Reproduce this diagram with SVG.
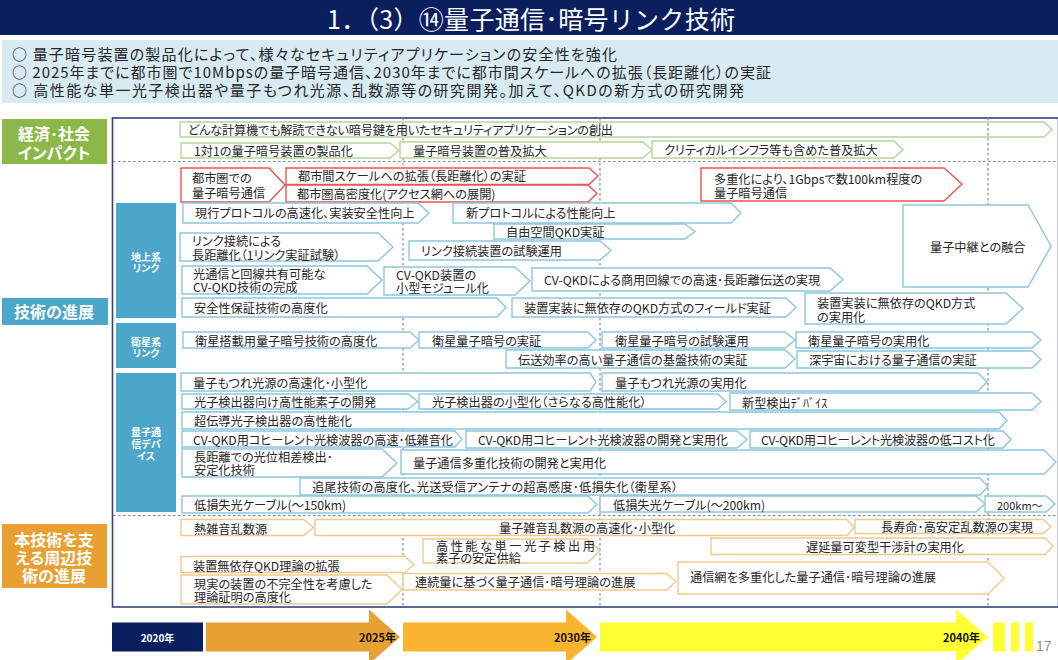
<svg xmlns="http://www.w3.org/2000/svg" width="1058" height="660" viewBox="0 0 1058 660">
<style>
text{font-family:"Noto Sans CJK JP","Liberation Sans",sans-serif;font-feature-settings:"palt";dominant-baseline:central;fill:#262626}
.t{font-size:12.2px}
.g{fill:#fff;stroke:#b4d59b;stroke-width:1.4}
.r{fill:#fff;stroke:#e8544f;stroke-width:1.4}
.b{fill:#fff;stroke:#8cc6de;stroke-width:1.4}
.o{fill:#fff;stroke:#f1c98f;stroke-width:1.4}
.h{font-size:15px}
.l{font-size:16px;font-weight:700;fill:#fff;text-anchor:middle}
.s{font-size:10px;font-weight:700;fill:#fff;text-anchor:middle}
.y{font-size:11px;font-weight:700;fill:#111;text-anchor:end}
.d{stroke:#7d86a8;stroke-width:1.2;stroke-dasharray:2.5 2.5;fill:none}
</style>
<rect width="1058" height="35" fill="#0b1f5f"/>
<text x="327" y="18" font-size="25" textLength="408" style="fill:#fff;font-feature-settings:normal">1．（3）⑭量子通信･暗号リンク技術</text>
<rect x="2" y="40" width="1056" height="63" fill="#d8ebf3"/>
<text class="h" x="12" y="53" textLength="605">○ 量子暗号装置の製品化によって、様々なセキュリティアプリケーションの安全性を強化</text>
<text class="h" x="12" y="71" textLength="759">○ 2025年までに都市圏で10Mbpsの量子暗号通信、2030年までに都市間スケールへの拡張（長距離化）の実証</text>
<text class="h" x="12" y="89" textLength="732">○ 高性能な単一光子検出器や量子もつれ光源、乱数源等の研究開発。加えて、QKDの新方式の研究開発</text>
<rect x="112.500" y="118" width="946" height="489" fill="#fff" stroke="#34437f" stroke-width="1.6"/>
<g id="connectors">
<path class="d" d="M403 118V607M600 118V607M988 118V607M113 161.500H1058M113 515.500H1058"/>
</g>
<g id="lab-impact"><rect x="2" y="119" width="105" height="45" fill="#8cb84a"/><text class="l" x="54" y="133">経済･社会<tspan x="54" dy="19">インパクト</tspan></text></g>
<g id="lab-tech"><rect x="2" y="298" width="106" height="27" fill="#4ba6c9"/><text class="l" x="54" y="311">技術の進展</text></g>
<g id="lab-support"><rect x="2" y="524" width="105" height="64" fill="#e8a033"/><text class="l" x="54" y="539">本技術を支<tspan x="54" dy="18">える周辺技</tspan><tspan x="54" dy="18">術の進展</tspan></text></g>
<g id="sub-ground"><rect x="116" y="203" width="60" height="115" fill="#4ba6c9"/><text class="s" x="146" y="256">地上系<tspan x="146" dy="11">リンク</tspan></text></g>
<g id="sub-sat"><rect x="116" y="323" width="60" height="45" fill="#4ba6c9"/><text class="s" x="146" y="341">衛星系<tspan x="146" dy="11">リンク</tspan></text></g>
<g id="sub-dev"><rect x="116" y="373" width="60" height="139" fill="#4ba6c9"/><text class="s" x="146" y="431">量子通<tspan x="146" dy="12">信デバ</tspan><tspan x="146" dy="12">イス</tspan></text></g>

<g id="n1"><polygon class="g" style="fill:none" points="180,122 1044,122 1052,129.500 1044,137 180,137"/><text class="t" x="188" y="130" textLength="425">どんな計算機でも解読できない暗号鍵を用いたセキュリティアプリケーションの創出</text></g>
<g id="n2"><polygon class="g" points="181,143 390,143 399,150.500 390,158 181,158"/><text class="t" x="194" y="151">1対1の量子暗号装置の製品化</text></g>
<g id="n3"><polygon class="g" points="400,142 643,142 652,150 643,158 400,158"/><text class="t" x="413" y="151">量子暗号装置の普及拡大</text></g>
<g id="n4"><polygon class="g" points="652,141 894,141 903,149.500 894,158 652,158"/><text class="t" x="664" y="150">クリティカルインフラ等も含めた普及拡大</text></g>

<g id="n5"><polygon class="r" points="181,168 269,168 285,185 269,202 181,202"/><text class="t" x="192" y="178">都市圏での<tspan x="192" dy="15">量子暗号通信</tspan></text></g>
<g id="n6"><polygon class="r" points="286,168 589,168 598,176 589,184.500 286,184.500"/><text class="t" x="298" y="176">都市間スケールへの拡張（長距離化）の実証</text></g>
<g id="n7"><polygon class="r" points="286,185 588,185 597,193.500 588,202 286,202"/><text class="t" x="297" y="194">都市圏高密度化(アクセス網への展開)</text></g>
<g id="n8"><polygon class="r" points="701,168 944,168 962,184 944,201 701,201"/><text class="t" x="714" y="179">多重化により、1Gbpsで数100km程度の<tspan x="714" dy="14">量子暗号通信</tspan></text></g>

<g id="n9"><polygon class="b" points="183,203 418,203 429,213 418,223 183,223"/><text class="t" x="195" y="213">現行プロトコルの高速化、実装安全性向上</text></g>
<g id="n10"><polygon class="b" points="453,203 731,203 741,213 731,223 453,223"/><text class="t" x="466" y="213">新プロトコルによる性能向上</text></g>
<g id="n11"><polygon class="b" points="494,224 685,224 695,231.500 685,239 494,239"/><text class="t" x="506" y="232">自由空間QKD実証</text></g>
<g id="n12"><polygon class="b" points="180,233 378,233 393,247 378,261 180,261"/><text class="t" x="192" y="241">リンク接続による<tspan x="192" dy="14">長距離化（1リンク実証試験）</tspan></text></g>
<g id="n13"><polygon class="b" points="409,241 600,241 611,250.500 600,260 409,260"/><text class="t" x="421" y="251">リンク接続装置の試験運用</text></g>
<g id="n14"><polygon class="b" points="182,266 367,266 382,280 367,294 182,294"/><text class="t" x="193" y="274">光通信と回線共有可能な<tspan x="193" dy="13">CV-QKD技術の完成</tspan></text></g>
<g id="n15"><polygon class="b" points="384,267 515,267 530,281 515,295 384,295"/><text class="t" x="396" y="275">CV-QKD装置の<tspan x="396" dy="13">小型モジュール化</tspan></text></g>
<g id="n16"><polygon class="b" points="532,268 830,268 843,279.500 830,291 532,291"/><text class="t" x="544" y="280">CV-QKDによる商用回線での高速･長距離伝送の実現</text></g>
<g id="n17"><polygon class="b" points="903,205 1028,205 1051,246 1028,287 903,287"/><text class="t" x="930" y="247">量子中継との融合</text></g>
<g id="n18"><polygon class="b" points="182,298 497,298 506,307.500 497,317 182,317"/><text class="t" x="194" y="308">安全性保証技術の高度化</text></g>
<g id="n19"><polygon class="b" points="512,298 786,298 796,307.500 786,317 512,317"/><text class="t" x="524" y="308">装置実装に無依存のQKD方式のフィールド実証</text></g>
<g id="n20"><polygon class="b" points="805,293 1006,293 1023,308.500 1006,324 805,324"/><text class="t" x="817" y="303">装置実装に無依存のQKD方式<tspan x="817" dy="14">の実用化</tspan></text></g>
<g id="n21"><polygon class="b" points="183,332 410,332 419,340 410,348 183,348"/><text class="t" x="195" y="341">衛星搭載用量子暗号技術の高度化</text></g>
<g id="n22"><polygon class="b" points="419,332 588,332 596,340 588,348 419,348"/><text class="t" x="432" y="341">衛星量子暗号の実証</text></g>
<g id="n23"><polygon class="b" points="602,332 785,332 795,340 785,348 602,348"/><text class="t" x="615" y="341">衛星量子暗号の試験運用</text></g>
<g id="n24"><polygon class="b" points="796,332 1032,332 1041,340 1032,348 796,348"/><text class="t" x="808" y="341">衛星量子暗号の実用化</text></g>
<g id="n25"><polygon class="b" points="506,350 785,350 795,359 785,368 506,368"/><text class="t" x="518" y="360">伝送効率の高い量子通信の基盤技術の実証</text></g>
<g id="n26"><polygon class="b" points="797,351 1032,351 1041,359.500 1032,368 797,368"/><text class="t" x="809" y="360">深宇宙における量子通信の実証</text></g>

<g id="n27"><polygon class="b" points="181,373 590,373 596,382 590,391 181,391"/><text class="t" x="193" y="383">量子もつれ光源の高速化･小型化</text></g>
<g id="n28"><polygon class="b" points="602,373 978,373 987,382 978,391 602,391"/><text class="t" x="615" y="383">量子もつれ光源の実用化</text></g>
<g id="n29"><polygon class="b" points="182,394 408,394 418,401.500 408,409 182,409"/><text class="t" x="194" y="402">光子検出器向け高性能素子の開発</text></g>
<g id="n30"><polygon class="b" points="419,394 718,394 726,401.500 718,409 419,409"/><text class="t" x="432" y="402">光子検出器の小型化（さらなる高性能化）</text></g>
<g id="n31"><polygon class="b" points="730,393 1032,393 1041,401.500 1032,410 730,410"/><text class="t" x="742" y="403">新型検出ﾃﾞﾊﾞｲｽ</text></g>
<g id="n32"><polygon class="b" points="182,412 999,412 1007,420.500 999,429 182,429"/><text class="t" x="194" y="421">超伝導光子検出器の高性能化</text></g>
<g id="n33"><polygon class="b" points="182,431 455,431 462,439 455,447 182,447"/><text class="t" x="193" y="440" textLength="260">CV-QKD用コヒーレント光検波器の高速･低雑音化</text></g>
<g id="n34"><polygon class="b" points="466,431 737,431 747,439.500 737,448 466,448"/><text class="t" x="478" y="440" textLength="250">CV-QKD用コヒーレント光検波器の開発と実用化</text></g>
<g id="n35"><polygon class="b" points="750,431 1003,431 1011,439.500 1003,448 750,448"/><text class="t" x="761" y="440" textLength="234">CV-QKD用コヒーレント光検波器の低コスト化</text></g>
<g id="n36"><polygon class="b" points="182,449 382,449 397,463 382,477 182,477"/><text class="t" x="194" y="457">長距離での光位相差検出･<tspan x="194" dy="13">安定化技術</tspan></text></g>
<g id="n37"><polygon class="b" points="401,450 1044,450 1056,462 1044,474 401,474"/><text class="t" x="413" y="463">量子通信多重化技術の開発と実用化</text></g>
<g id="n38"><polygon class="b" points="300,478 980,478 988,486.500 980,495 300,495"/><text class="t" x="312" y="487" textLength="366">追尾技術の高度化、光送受信アンテナの超高感度･低損失化（衛星系）</text></g>
<g id="n39"><polygon class="b" points="182,496 588,496 597,504.500 588,513 182,513"/><text class="t" x="194" y="505">低損失光ケーブル(～150km)</text></g>
<g id="n40"><polygon class="b" points="600,496 976,496 985,504 976,512 600,512"/><text class="t" x="613" y="505">低損失光ケーブル(～200km)</text></g>
<g id="n41"><polygon class="b" points="985,496 1046,496 1055,504 1046,512 985,512"/><text x="997" y="505" font-size="11">200km～</text></g>

<g id="n42"><polygon class="o" points="181,519.500 304,519.500 313.500,527.500 304,535.500 181,535.500"/><text class="t" x="194" y="529">熱雑音乱数源</text></g>
<g id="n43"><polygon class="o" points="315,519.500 847,519.500 854,527.500 847,535.500 315,535.500"/><text class="t" x="499" y="528">量子雑音乱数源の高速化･小型化</text></g>
<g id="n44"><polygon class="o" points="855,519.500 1043,519.500 1051,526.500 1043,533.500 855,533.500"/><text class="t" x="881" y="527">長寿命･高安定乱数源の実現</text></g>
<g id="n45"><polygon class="o" points="423,539 587,539 600,551 587,563 423,563"/><text class="t" x="436" y="546" letter-spacing="2.500">高性能な単一光子検出用<tspan x="436" dy="12" letter-spacing="0">素子の安定供給</tspan></text></g>
<g id="n46"><polygon class="o" points="711,538 1045,538 1053,546 1045,554.500 711,554.500"/><text class="t" x="806" y="547">遅延量可変型干渉計の実用化</text></g>
<g id="n47"><polygon class="o" points="181,556.500 405,556.500 414,564.500 405,572.500 181,572.500"/><text class="t" x="193" y="566">装置無依存QKD理論の拡張</text></g>
<g id="n48"><polygon class="o" points="181,575 387,575 402,589.500 387,604 181,604"/><text class="t" x="194" y="584">現実の装置の不完全性を考慮した<tspan x="194" dy="13">理論証明の高度化</tspan></text></g>
<g id="n49"><polygon class="o" points="403,573.500 666.500,573.500 676,581.500 666.500,590 403,590"/><text class="t" x="415" y="582">連続量に基づく量子通信･暗号理論の進展</text></g>
<g id="n50"><polygon class="o" points="678,562 988,562 1004,578 988,594 678,594"/><text class="t" x="690" y="577">通信網を多重化した量子通信･暗号理論の進展</text></g>

<g id="t2020"><rect x="112" y="622.500" width="91" height="29" fill="#0b1f5f"/><text x="157.500" y="637" font-size="10" font-weight="700" style="fill:#fff;text-anchor:middle">2020年</text></g>
<g id="t2025"><polygon fill="#e8a033" points="206,622.500 369,622.500 369,609.500 400,637 369,664 369,651.500 206,651.500"/><text class="y" x="396" y="637">2025年</text></g>
<g id="t2030"><polygon fill="#f9b52e" points="403,622.500 566,622.500 566,609.500 597,637 566,664 566,651.500 403,651.500"/><text class="y" x="591" y="637">2030年</text></g>
<g id="t2040"><polygon fill="#ffff33" points="600,622.500 956,622.500 956,609.500 988,637 956,664 956,651.500 600,651.500"/><text class="y" x="980" y="637">2040年</text></g>
<g id="tbars" fill="#ffff33"><rect x="993" y="622.500" width="12" height="29"/><rect x="1011" y="622.500" width="8" height="29"/><rect x="1025" y="622.500" width="8" height="29"/></g>
<text x="1036" y="646" font-size="14" style="fill:#8c8c8c;font-family:'Liberation Sans',sans-serif">17</text>
</svg>
